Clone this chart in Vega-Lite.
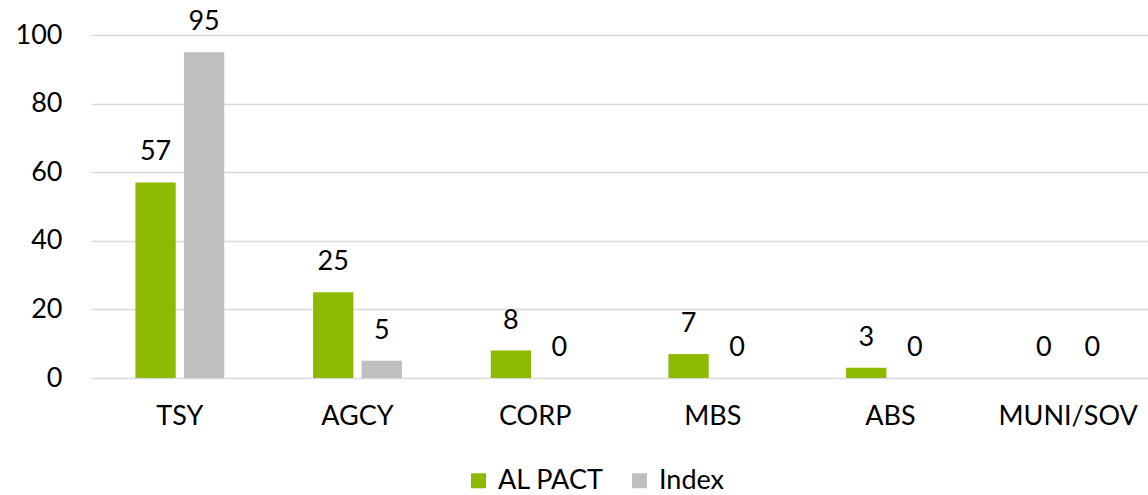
{
  "$schema": "https://vega.github.io/schema/vega-lite/v6.json",
  "width": 1066,
  "height": 343,
  "autosize": {"type": "none"},
  "padding": {"left": 91, "top": 35, "right": 0, "bottom": 117},
  "background": "white",
  "data": {"values": [
    {"cat": "TSY", "series": "AL PACT", "value": 57},
    {"cat": "TSY", "series": "Index", "value": 95},
    {"cat": "AGCY", "series": "AL PACT", "value": 25},
    {"cat": "AGCY", "series": "Index", "value": 5},
    {"cat": "CORP", "series": "AL PACT", "value": 8},
    {"cat": "CORP", "series": "Index", "value": 0},
    {"cat": "MBS", "series": "AL PACT", "value": 7},
    {"cat": "MBS", "series": "Index", "value": 0},
    {"cat": "ABS", "series": "AL PACT", "value": 3},
    {"cat": "ABS", "series": "Index", "value": 0},
    {"cat": "MUNI/SOV", "series": "AL PACT", "value": 0},
    {"cat": "MUNI/SOV", "series": "Index", "value": 0}
  ]},
  "encoding": {
    "x": {"field": "cat", "type": "nominal", "sort": null, "title": null,
      "scale": {"paddingInner": 0.5, "paddingOuter": 0.25},
      "axis": {"labelAngle": 0, "labelFont": "Lato", "labelFontSize": 27, "labelColor": "#000", "domain": false, "ticks": false, "labelPadding": 25}},
    "xOffset": {"field": "series", "type": "nominal", "scale": {"paddingInner": 0.17}},
    "y": {"field": "value", "type": "quantitative", "title": null,
      "scale": {"domain": [0, 100]},
      "axis": {"values": [0, 20, 40, 60, 80, 100], "labelFont": "Lato", "labelFontSize": 27, "labelColor": "#000", "domain": false, "ticks": false, "labelPadding": 29, "gridColor": "#D9D9D9", "gridWidth": 1.5}}
  },
  "layer": [
    {"mark": {"type": "bar"},
     "encoding": {"color": {"field": "series", "type": "nominal",
       "scale": {"domain": ["AL PACT", "Index"], "range": ["#8BBA00", "#BFBFBF"]},
       "legend": {"title": null, "orient": "none", "direction": "horizontal", "legendX": 374, "legendY": 432,
         "symbolType": "square", "symbolSize": 225, "symbolStrokeWidth": 0, "labelFont": "Lato", "labelFontSize": 27, "labelColor": "#000", "columnPadding": 22, "labelOffset": 6}}}},
    {"mark": {"type": "text", "dy": -30, "font": "Lato", "fontSize": 27, "color": "#000"},
     "encoding": {"text": {"field": "value", "type": "quantitative"}}}
  ],
  "config": {"view": {"stroke": null}}
}
